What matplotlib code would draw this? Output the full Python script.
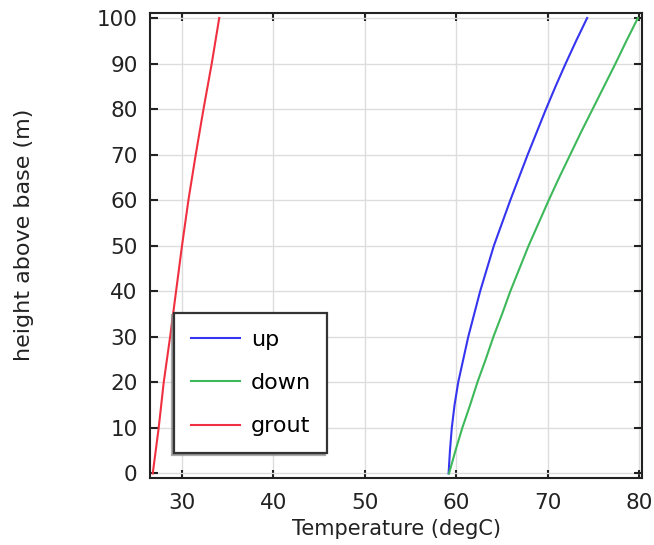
import matplotlib
matplotlib.use("Agg")
import matplotlib.pyplot as plt

height_pipe = [0, 5, 10, 15, 20, 25, 30, 35, 40, 45, 50, 55, 60, 65, 70, 75, 80, 85, 90, 95, 100]
temp_up = [59.15, 59.3, 59.5, 59.8, 60.2, 60.75, 61.3, 61.95, 62.6, 63.35, 64.1, 65.0, 65.9,
           66.85, 67.8, 68.8, 69.8, 70.85, 71.95, 73.1, 74.3]
temp_down = [59.2, 59.9, 60.65, 61.5, 62.3, 63.2, 64.05, 65.0, 65.9, 66.9, 67.9, 69.0, 70.1,
             71.25, 72.45, 73.65, 74.9, 76.15, 77.4, 78.6, 79.85]
height_grout = [0, 10, 20, 30, 40, 50, 60, 70, 80, 90, 100]
temp_grout = [26.8, 27.45, 28.0, 28.7, 29.35, 30.0, 30.7, 31.5, 32.35, 33.25, 34.07]
labels = ["up", "down", "grout"]
x_ticks = [30, 40, 50, 60, 70, 80]
y_ticks = [0, 10, 20, 30, 40, 50, 60, 70, 80, 90, 100]

plt.rcParams['font.family'] = ['DejaVu Sans']
fig = plt.figure(figsize=(6.54, 5.45), dpi=100)
ax = fig.add_axes([150/654, 1-478/545, 492/654, 465/545])

ax.plot(temp_up, height_pipe, color='#3535f0', lw=1.5, label=labels[0])
ax.plot(temp_down, height_pipe, color='#3db85a', lw=1.5, label=labels[1])
ax.plot(temp_grout, height_grout, color='#f03040', lw=1.5, label=labels[2])

ax.set_xlim(26.5, 80.3)
ax.set_ylim(-1, 101.1)
ax.set_xticks(x_ticks)
ax.set_yticks(y_ticks)
ax.grid(True, color='#dddddd', lw=1.0)
ax.tick_params(direction='in', length=6, width=1.5, top=True, right=True,
               labelsize=15.5, colors='#222222')
ax.tick_params(axis='x', pad=11)
ax.tick_params(axis='y', pad=9)
for s in ax.spines.values():
    s.set_linewidth(1.5)
    s.set_color('#222222')
ax.set_xlabel("Temperature (degC)", fontsize=15, color='#222222', labelpad=4)
ax.set_ylabel("height above base (m)", fontsize=16, color='#222222')
ax.yaxis.set_label_coords(-0.236, 0.523)

leg = ax.legend(loc='lower left', bbox_to_anchor=(24/492, 25/465), fontsize=16,
                fancybox=False, shadow={'ox': -1.5, 'oy': -1.5, 'color': '#888888', 'alpha': 0.7},
                framealpha=1, edgecolor='#333333',
                handlelength=2.2, handletextpad=0.5, labelspacing=1.05,
                borderpad=0.75, borderaxespad=0)
leg.get_frame().set_linewidth(1.6)

fig.savefig("out.png", dpi=100)
